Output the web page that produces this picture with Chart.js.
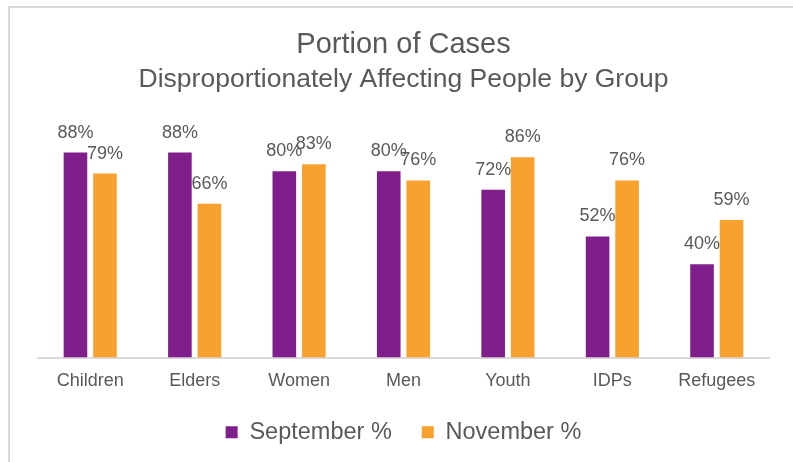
<!DOCTYPE html>
<html>
<head>
<meta charset="utf-8">
<script src="https://cdn.jsdelivr.net/npm/chart.js@4.4.1/dist/chart.umd.min.js"></script>
<style>
  html, body { margin: 0; padding: 0; background: #fff; }
  #wrap { width: 793px; height: 462px; position: relative; }
</style>
</head>
<body>
<div id="wrap"><canvas id="groupChart" width="793" height="462"></canvas></div>
<script>
var groups = ['Children', 'Elders', 'Women', 'Men', 'Youth', 'IDPs', 'Refugees'];
var september = [88, 88, 80, 80, 72, 52, 40];
var november = [79, 66, 83, 76, 86, 76, 59];

var textGrey = '#595959';
var fontFam = '"Liberation Sans", Arial, sans-serif';

// light frame around the whole chart
var framePlugin = {
  id: 'frame',
  beforeDraw: function(chart) {
    var c = chart.ctx;
    c.save();
    c.strokeStyle = '#d9d9d9';
    c.lineWidth = 2;
    c.strokeRect(9, 7, chart.width + 20, chart.height + 20);
    c.restore();
  }
};

// value labels on top of each bar
var valueLabels = {
  id: 'valueLabels',
  afterDatasetsDraw: function(chart) {
    var c = chart.ctx;
    c.save();
    c.fillStyle = textGrey;
    c.font = '18px ' + fontFam;
    c.textAlign = 'center';
    c.textBaseline = 'alphabetic';
    chart.data.datasets.forEach(function(ds, i) {
      chart.getDatasetMeta(i).data.forEach(function(bar, j) {
        c.fillText(ds.data[j] + '%', bar.x, bar.y - 15);
      });
    });
    c.restore();
  }
};

var ctx = document.getElementById('groupChart');
var groupChart = new Chart(ctx, {
  type: 'bar',
  data: {
    labels: groups,
    datasets: [
      {
        label: 'September %',
        data: september,
        backgroundColor: '#801f8b',
        borderWidth: 0
      },
      {
        label: 'November %',
        data: november,
        backgroundColor: '#f9a12e',
        borderWidth: 0
      }
    ]
  },
  options: {
    responsive: false,
    animation: false,
    categoryPercentage: 0.565,
    barPercentage: 0.8,
    layout: { padding: { left: 38, right: 24, top: 28, bottom: 8 } },
    scales: {
      x: {
        grid: { display: false, drawTicks: false },
        border: { display: true, color: '#d9d9d9', width: 2 },
        ticks: { color: textGrey, font: { size: 18, family: fontFam }, padding: 13 },
        afterFit: function(scale) { scale.height = 33; }
      },
      y: {
        display: false,
        min: 0,
        max: 100
      }
    },
    plugins: {
      title: {
        display: true,
        text: 'Portion of Cases',
        color: textGrey,
        font: { size: 29, weight: 'normal', family: fontFam },
        padding: { top: 0, bottom: 1 }
      },
      subtitle: {
        display: true,
        text: 'Disproportionately Affecting People by Group',
        color: textGrey,
        font: { size: 26.5, family: fontFam },
        padding: { top: 0, bottom: 29 }
      },
      legend: {
        position: 'bottom',
        labels: {
          boxWidth: 12,
          boxHeight: 12,
          padding: 30,
          color: textGrey,
          font: { size: 23.5, family: fontFam }
        }
      },
      tooltip: { enabled: false }
    }
  },
  plugins: [framePlugin, valueLabels]
});
</script>
</body>
</html>
